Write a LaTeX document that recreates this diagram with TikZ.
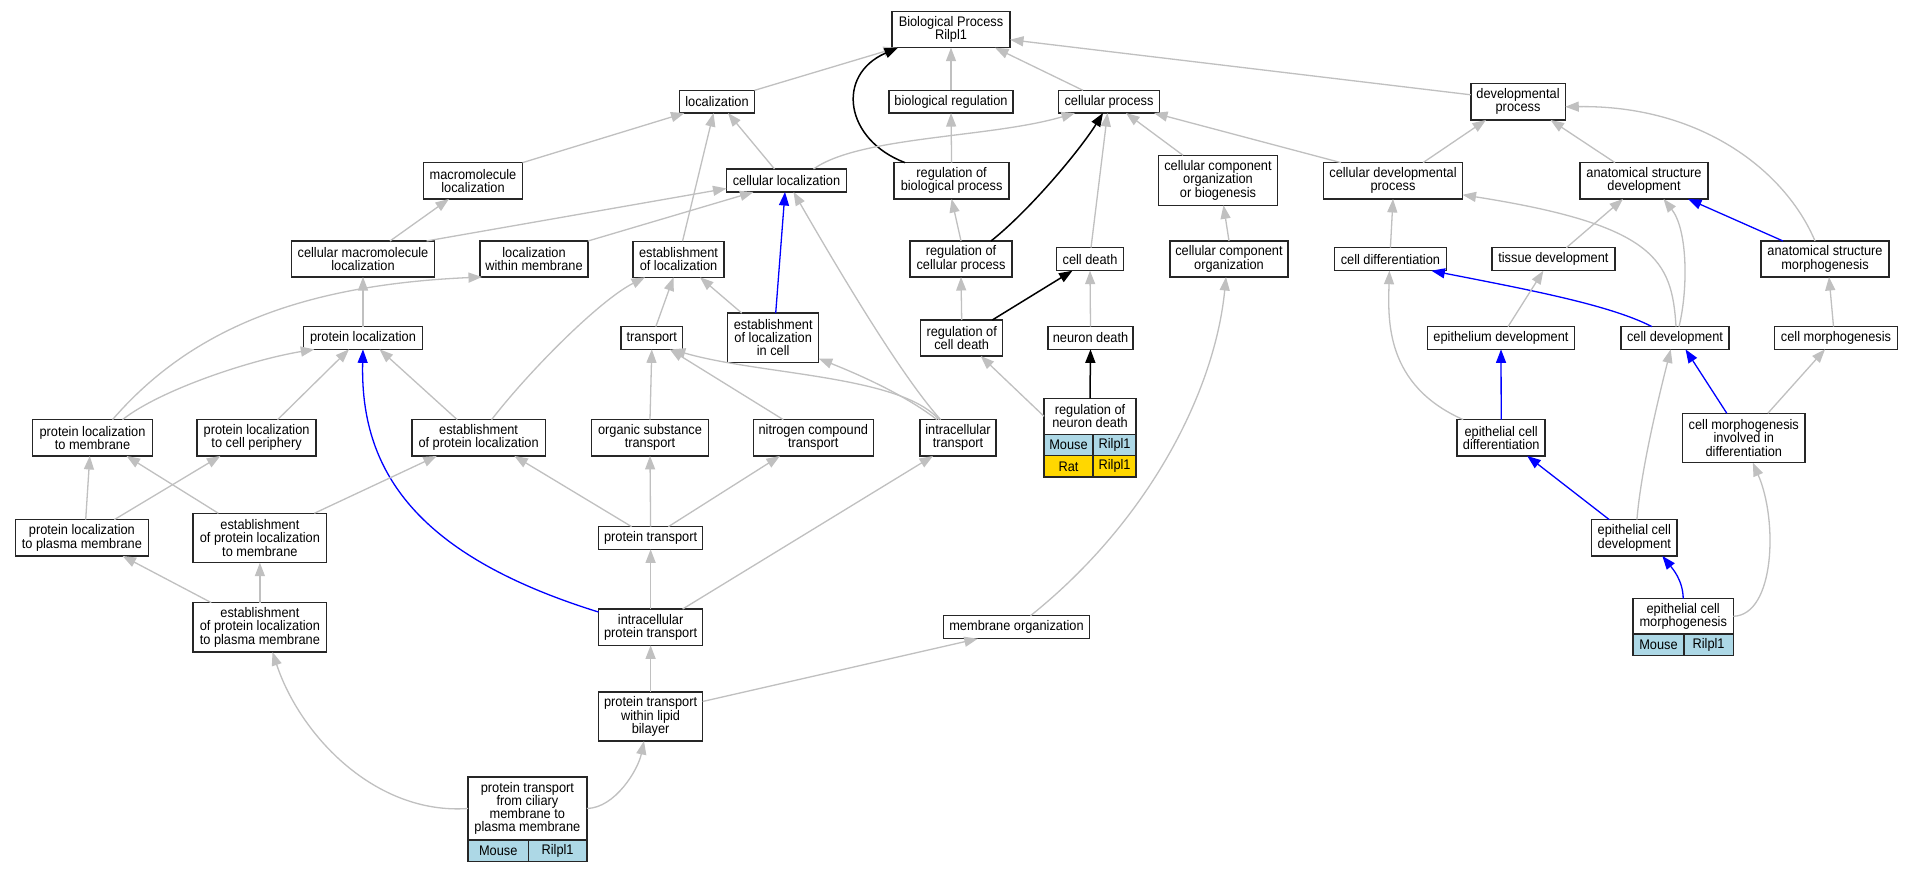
\documentclass[tikz,border=0pt]{standalone}
\usepackage{fontspec}
\setmainfont{Liberation Sans}[FakeStretch=0.92]
\usetikzlibrary{arrows.meta}
\definecolor{edgegray}{RGB}{192,192,192}
\definecolor{mouseblue}{RGB}{173,216,230}
\definecolor{ratgold}{RGB}{255,215,0}
\tikzset{
 term/.style 2 args={draw=black!85, line width=1.5pt, fill=white, align=center, inner sep=1pt, outer sep=0pt,
   minimum width=#1pt, minimum height=#2pt, font=\fontsize{13.9}{13.2}\selectfont},
 spcell/.style 2 args={term={#2}{21.4}, fill=#1},
 isa/.style={draw=edgegray, line width=1.3pt, -{Triangle[length=13.5pt,width=10pt]}},
 partof/.style={isa, draw=blue},
 regl/.style={isa, draw=black, line width=1.5pt},
}

\begin{document}
\begin{tikzpicture}[x=1pt,y=-1pt]
\path[use as bounding box, fill=white] (0,0) rectangle (1913,872);

\node[term={118}{36}] (bp) at (951,29.7) {Biological Process\\Rilpl1};
\node[term={75}{22.7}] (loc) at (717,101.7) {localization};
\node[term={124}{22.7}] (breg) at (951,101.7) {biological regulation};
\node[term={101}{22.7}] (cproc) at (1109,101.7) {cellular process};
\node[term={94.5}{36.3}] (devp) at (1518,101.8) {developmental\\process};
\node[term={99}{36.3}] (mloc) at (473,180.8) {macromolecule\\localization};
\node[term={120}{23}] (cloc) at (786.5,180.5) {cellular localization};
\node[term={115}{36.3}] (rbp) at (951.6,180.8) {regulation of\\biological process};
\node[term={119}{50}] (ccob) at (1218,180.3) {cellular component\\organization\\or biogenesis};
\node[term={139}{36.3}] (cdp) at (1393,180.8) {cellular developmental\\process};
\node[term={128}{36.3}] (asd) at (1644,180.8) {anatomical structure\\development};
\node[term={143}{36}] (cml) at (363,259) {cellular macromolecule\\localization};
\node[term={108}{36}] (lwm) at (534,259) {localization\\within membrane};
\node[term={91}{36}] (eloc) at (678.5,259.3) {establishment\\of localization};
\node[term={102}{36}] (rcp) at (961,259) {regulation of\\cellular process};
\node[term={67}{23}] (cdeath) at (1090,259.2) {cell death};
\node[term={118}{36}] (cco) at (1229,259) {cellular component\\organization};
\node[term={112}{23}] (cdiff) at (1390.4,259.2) {cell differentiation};
\node[term={123}{23}] (tdev) at (1553.4,259.2) {tissue development};
\node[term={128}{36}] (asm) at (1825,259) {anatomical structure\\morphogenesis};
\node[term={119}{22.7}] (ploc) at (363,338) {protein localization};
\node[term={61.5}{22.7}] (trans) at (651.8,338) {transport};
\node[term={91}{49.5}] (elic) at (773.2,337.8) {establishment\\of localization\\in cell};
\node[term={82}{36}] (rcd) at (961.7,338) {regulation of\\cell death};
\node[term={85}{22.7}] (nd) at (1090.5,338) {neuron death};
\node[term={147}{22.7}] (epdev) at (1501,338) {epithelium development};
\node[term={108}{22.7}] (celldev) at (1675,338) {cell development};
\node[term={123}{22.7}] (cmorph) at (1836,338) {cell morphogenesis};
\node[term={92}{36}] (rnd) at (1090,416.3) {regulation of\\neuron death};
\node[term={120}{36.3}] (plm) at (92.5,437.8) {protein localization\\to membrane};
\node[term={119}{36.3}] (plcp) at (256.6,437.8) {protein localization\\to cell periphery};
\node[term={133.5}{36.3}] (epl) at (478.6,437.8) {establishment\\of protein localization};
\node[term={116.7}{36.3}] (ost) at (650,437.8) {organic substance\\transport};
\node[term={120}{36.3}] (nct) at (813.3,437.8) {nitrogen compound\\transport};
\node[term={76}{36.3}] (itr) at (958,437.8) {intracellular\\transport};
\node[term={88}{36.3}] (ecdiff) at (1501.2,437.8) {epithelial cell\\differentiation};
\node[term={122.5}{49.4}] (cmid) at (1743.8,438) {cell morphogenesis\\involved in\\differentiation};
\node[term={132.7}{36.3}] (plpm) at (81.9,537.8) {protein localization\\to plasma membrane};
\node[term={133.6}{49.4}] (eplm) at (259.9,538) {establishment\\of protein localization\\to membrane};
\node[term={104}{22.7}] (ptr) at (650.6,538) {protein transport};
\node[term={85.4}{36.3}] (ecdev) at (1634.3,537.8) {epithelial cell\\development};
\node[term={133.6}{49.4}] (eplpm) at (259.9,627.3) {establishment\\of protein localization\\to plasma membrane};
\node[term={104}{36.3}] (iptr) at (650.6,627.2) {intracellular\\protein transport};
\node[term={146}{23}] (morg) at (1016.5,627.2) {membrane organization};
\node[term={100.3}{35.3}] (ecm) at (1683.2,616.3) {epithelial cell\\morphogenesis};
\node[term={104}{49}] (ptwlb) at (650.6,716.5) {protein transport\\within lipid\\bilayer};
\node[term={118.8}{63}] (ptcm) at (527.4,808.5) {protein transport\\from ciliary\\membrane to\\plasma membrane};

\node[spcell={mouseblue}{49}, anchor=north west] (rndm) at (rnd.south west) {Mouse};
\node[spcell={mouseblue}{42.8}, anchor=north east] (rndmg) at (rnd.south east) {Rilpl1};
\node[spcell={ratgold}{49}, anchor=north west] (rndr) at (rndm.south west) {Rat};
\node[spcell={ratgold}{42.8}, anchor=north east] (rndrg) at (rndmg.south east) {Rilpl1};
\node[spcell={mouseblue}{50.8}, anchor=north west] (ecmm) at (ecm.south west) {Mouse};
\node[spcell={mouseblue}{49.5}, anchor=north east] (ecmg) at (ecm.south east) {Rilpl1};
\node[spcell={mouseblue}{60.4}, anchor=north west] (ptcmm) at (ptcm.south west) {Mouse};
\node[spcell={mouseblue}{58.4}, anchor=north east] (ptcmg) at (ptcm.south east) {Rilpl1};

\foreach \c/\p in {breg/bp, rbp/breg, rcp/rbp, cdiff/cdp, ploc/cml, eplpm/eplm, ptr/ost, ost/trans,
  iptr/ptr, ptwlb/iptr, rcd/rcp, nd/cdeath}
  \draw[isa] (\c.north) -- (\p.south);

\draw[isa] (loc.north east) -- ([xshift=5pt]bp.south west);
\draw[isa] ([xshift=-26pt]cproc.north) -- ([xshift=44pt]bp.south);
\draw[isa] ([yshift=7pt]devp.west) -- ([yshift=-10pt]bp.east);
\draw[regl] ([xshift=11pt]rbp.north west) .. controls (845,140) and (835,75) .. ([xshift=6pt]bp.south west);
\draw[isa] (mloc.north east) -- ([xshift=5pt]loc.south west);
\draw[isa] ([xshift=-12pt]cloc.north) -- ([xshift=11pt]loc.south);
\draw[isa] ([xshift=4pt]eloc.north) -- ([xshift=-3.5pt]loc.south);
\draw[isa] ([xshift=27pt]cloc.north) .. controls (860,136) and (990,138) .. ([xshift=-34pt]cproc.south);
\draw[regl] ([xshift=-21pt]rcp.north east) .. controls (1030,210) and (1080,150) .. ([xshift=-6pt]cproc.south);
\draw[isa] ([xshift=1pt]cdeath.north) -- ([xshift=-1.5pt]cproc.south);
\draw[isa] ([xshift=-35pt]ccob.north) -- ([xshift=17pt]cproc.south);
\draw[isa] ([xshift=-52pt]cdp.north) -- ([xshift=45pt]cproc.south);
\draw[isa] (cco.north) -- ([xshift=5.5pt]ccob.south);
\draw[isa] ([xshift=30pt]cdp.north) -- ([xshift=-32pt]devp.south);
\draw[isa] ([xshift=-29pt]asd.north) -- ([xshift=32.5pt]devp.south);
\draw[isa] ([xshift=-10pt]asm.north) .. controls (1785,170) and (1700,105) .. ([yshift=-5pt]devp.east);
\draw[partof] ([xshift=-42pt]asm.north) -- ([xshift=44pt]asd.south);
\draw[isa] ([xshift=13pt]tdev.north) -- ([xshift=-21pt]asd.south);
\draw[isa] ([xshift=1pt]celldev.north) .. controls (1672,260) and (1655,225) .. ([yshift=-14pt]cdp.east);
\draw[isa] ([xshift=4pt]celldev.north) .. controls (1688,290) and (1688,230) .. ([xshift=19.5pt]asd.south);
\draw[partof] ([xshift=-23pt]celldev.north) .. controls (1610,305) and (1530,290) .. ([xshift=41pt]cdiff.south);
\draw[isa] ([xshift=-2.5pt]cmorph.north) -- ([xshift=4pt]asm.south);
\draw[isa] ([xshift=7pt]epdev.north) -- ([xshift=-10pt]tdev.south);
\draw[partof] (ecdiff.north) -- (epdev.south);
\draw[isa] ([xshift=-38pt]ecdiff.north) .. controls (1385,385) and (1388,320) .. ([xshift=-1pt]cdiff.south);
\draw[partof] ([xshift=-17pt]cmid.north) -- ([xshift=10.5pt]celldev.south);
\draw[isa] ([xshift=24pt]cmid.north) -- ([xshift=-11pt]cmorph.south);
\draw[partof] ([xshift=-25pt]ecdev.north) -- ([xshift=26pt]ecdiff.south);
\draw[isa] ([xshift=2.6pt]ecdev.north) .. controls (1641,470) and (1658,400) .. ([xshift=-4.3pt]celldev.south);
\draw[partof] (ecm.north) .. controls (1683,580) and (1672,568) .. ([xshift=28pt]ecdev.south);
\draw[isa] (ecm.east) .. controls (1775,615) and (1778,520) .. ([xshift=9pt]cmid.south);

\draw[isa] ([xshift=27pt]cml.north) -- ([xshift=-24pt]mloc.south);
\draw[isa] ([xshift=-8pt]cml.north east) -- ([yshift=-8pt]cloc.west);
\draw[isa] (lwm.north east) -- ([xshift=-33pt]cloc.south);
\draw[isa] ([xshift=20pt]plm.north) .. controls (190,330) and (300,285) .. ([xshift=2pt]lwm.south west);
\draw[isa] ([xshift=30pt]plm.north) .. controls (160,390) and (250,360) .. ([xshift=-48.7pt]ploc.south);
\draw[isa] ([xshift=21pt]plcp.north) -- ([xshift=-14pt]ploc.south);
\draw[isa] ([xshift=-21.4pt]epl.north) -- ([xshift=16.6pt]ploc.south);
\draw[isa] ([xshift=13pt]epl.north) .. controls (530,370) and (600,300) .. ([xshift=-33.5pt]eloc.south);
\draw[partof] ([yshift=-3pt]iptr.north west) .. controls (415,555) and (360,470) .. (ploc.south);
\draw[isa] ([xshift=3.8pt]plpm.north) -- ([xshift=-2.7pt]plm.south);
\draw[isa] ([xshift=32.4pt]plpm.north) -- ([xshift=-36.2pt]plcp.south);
\draw[isa] ([xshift=-41.5pt]eplm.north) -- ([xshift=34pt]plm.south);
\draw[isa] ([xshift=54.4pt]eplm.north) -- ([xshift=-41.8pt]epl.south);
\draw[isa] ([xshift=-48.7pt]eplpm.north) -- ([xshift=40.6pt]plpm.south);
\draw[isa] ([xshift=-19pt]ptr.north) -- ([xshift=35.7pt]epl.south);
\draw[isa] ([xshift=17.8pt]ptr.north) -- ([xshift=-33.4pt]nct.south);
\draw[isa] ([xshift=-30pt]nct.north) -- ([xshift=18pt]trans.south);
\draw[isa] ([xshift=4pt]trans.north) -- ([xshift=-5pt]eloc.south);
\draw[isa] ([xshift=-31.5pt]elic.north) -- ([xshift=21.5pt]eloc.south);
\draw[partof] ([xshift=2.5pt]elic.north) -- ([xshift=-1.5pt]cloc.south);
\draw[isa] ([xshift=-19pt]itr.north) .. controls (900,375) and (760,375) .. ([xshift=20pt]trans.south);
\draw[isa] ([xshift=-21pt]itr.north) .. controls (905,395) and (860,375) .. ([yshift=4pt]elic.south east);
\draw[isa] ([xshift=-17.4pt]itr.north) .. controls (905,380) and (850,290) .. ([xshift=7pt]cloc.south);
\draw[isa] ([xshift=32pt]iptr.north) -- ([xshift=-25pt]itr.south);
\draw[isa] ([yshift=15pt]ptwlb.east) -- ([xshift=-38.7pt]morg.south);
\draw[isa] ([xshift=14pt]morg.north) .. controls (1150,520) and (1215,390) .. ([xshift=-3pt]cco.south);
\draw[isa] (ptcm.west) .. controls (375,815) and (300,735) .. ([xshift=12.6pt]eplpm.south);
\draw[isa] (ptcm.east) .. controls (615,808) and (638,770) .. ([xshift=-6.6pt]ptwlb.south);
\draw[regl] ([xshift=30.6pt]rcd.north) -- ([xshift=-17.5pt]cdeath.south);
\draw[regl] (rnd.north) -- (nd.south);
\draw[isa] (rnd.west) -- ([xshift=19pt]rcd.south);
\end{tikzpicture}
\end{document}
